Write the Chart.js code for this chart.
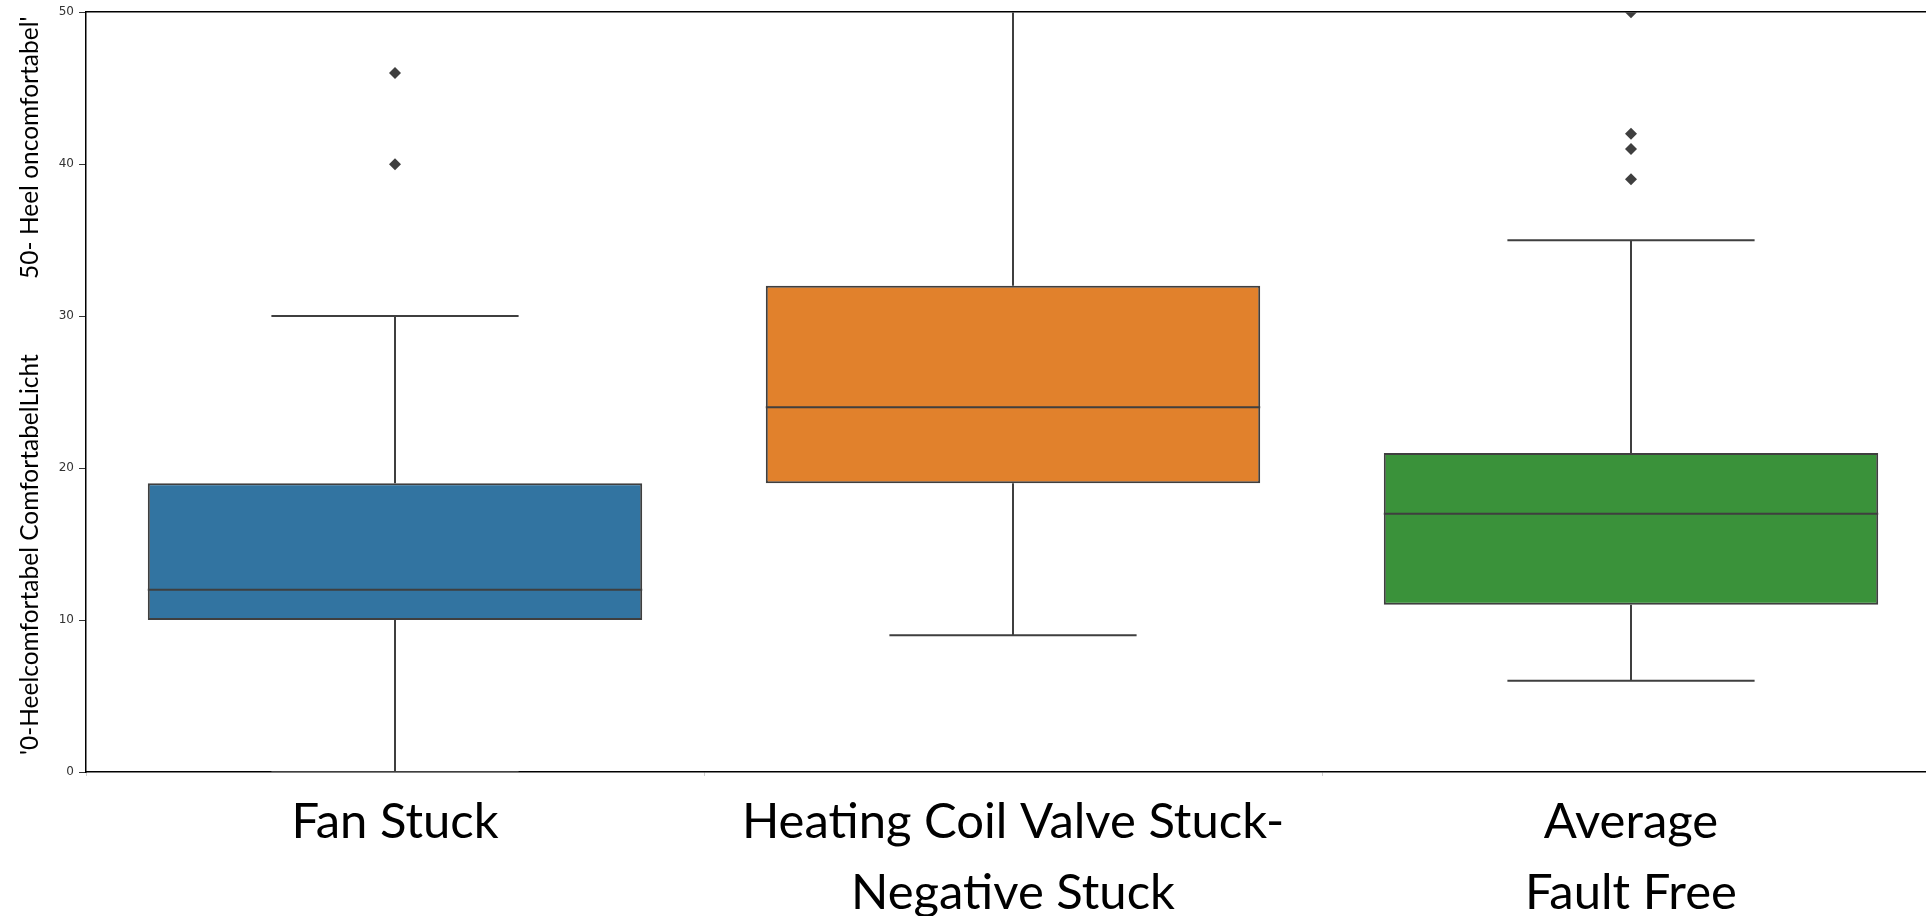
<!DOCTYPE html>
<html>
<head>
<meta charset="utf-8">
<script src="https://cdn.jsdelivr.net/npm/chart.js@4"></script>
<style>
  html, body { margin: 0; padding: 0; background: #fff; overflow: hidden; }
  #wrap { width: 1946px; height: 916px; }
</style>
</head>
<body>
<div id="wrap"><canvas id="mainCanvas" width="1946" height="916"></canvas></div>
<script>
// box plot data, one entry per category
const categories = [
  ['Fan Stuck'],
  ['Heating Coil Valve Stuck-', 'Negative Stuck'],
  ['Average', 'Fault Free']
];
const whiskerLow = [0, 9, 6];
const quartile1 = [10, 19, 11];
const medians = [12, 24, 17];
const quartile3 = [19, 32, 21];
const whiskerHigh = [30, 50, 35];
const outliers = [
  [40, 46],
  [],
  [39, 41, 42, 50]
];
const boxColors = ['#3274a1', '#e1812c', '#3a923a'];
const yTicks = [0, 10, 20, 30, 40, 50];
const yMax = 50;

const nb = n => '\u00a0'.repeat(n);
const yTitle = nb(2) + "'0-Heelcomfortabel ComfortabelLicht" + nb(12) + "50- Heel oncomfortabel'";

const lineColor = '#3f3f3f';

// whiskers and caps as line segments split by gaps
function buildSegments() {
  const pts = [];
  const add = (x0, y0, x1, y1) => pts.push({ x: x0, y: y0 }, { x: x1, y: y1 }, { x: x1, y: null });
  categories.forEach((c, i) => {
    add(i, whiskerLow[i], i, quartile1[i]);
    add(i, quartile3[i], i, whiskerHigh[i]);
    add(i - 0.2, whiskerLow[i], i + 0.2, whiskerLow[i]);
    // cap hidden under the top spine when the whisker runs off the axis
    if (whiskerHigh[i] < yMax) add(i - 0.2, whiskerHigh[i], i + 0.2, whiskerHigh[i]);
  });
  return pts;
}

function buildMedians() {
  const pts = [];
  medians.forEach((m, i) => {
    pts.push({ x: i - 0.4, y: m }, { x: i + 0.4, y: m }, { x: i + 0.4, y: null });
  });
  return pts;
}

function buildOutliers() {
  const pts = [];
  outliers.forEach((list, i) => list.forEach(v => pts.push({ x: i, y: v })));
  return pts;
}

const ctx = document.getElementById('mainCanvas').getContext('2d');

new Chart(ctx, {
  type: 'bar',
  data: {
    labels: categories,
    datasets: [
      {
        type: 'scatter',
        data: buildOutliers(),
        xAxisID: 'x2',
        pointStyle: 'rectRot',
        pointRadius: 6,
        backgroundColor: lineColor,
        borderColor: lineColor,
        borderWidth: 0,
        clip: 0,
        order: 0
      },
      {
        type: 'line',
        data: buildMedians(),
        xAxisID: 'x2',
        borderColor: lineColor,
        borderWidth: 2,
        pointRadius: 0,
        spanGaps: false,
        clip: 0,
        order: 1
      },
      {
        type: 'line',
        data: buildSegments(),
        xAxisID: 'x2',
        borderColor: lineColor,
        borderWidth: 2,
        pointRadius: 0,
        spanGaps: false,
        clip: 0,
        order: 2
      },
      {
        type: 'bar',
        data: quartile1.map((q, i) => [q, quartile3[i]]),
        backgroundColor: boxColors,
        borderColor: lineColor,
        borderWidth: 2,
        borderSkipped: false,
        grouped: false,
        barPercentage: 0.8,
        categoryPercentage: 1.0,
        order: 3
      }
    ]
  },
  options: {
    responsive: false,
    animation: false,
    layout: { padding: { top: 10, right: 2, left: 0, bottom: 0 } },
    plugins: {
      legend: { display: false },
      tooltip: { enabled: false }
    },
    scales: {
      x: {
        type: 'category',
        offset: true,
        grid: { drawOnChartArea: false, tickLength: 4, tickColor: '#d0d0d0' },
        border: { color: '#000', width: 1.5 },
        ticks: {
          color: '#000',
          padding: 11,
          maxRotation: 0,
          autoSkip: false,
          font: { family: 'Lato', size: 49, lineHeight: 1.45 }
        },
        afterFit: s => { s.height = 144; }
      },
      x2: {
        type: 'linear',
        position: 'top',
        offset: false,
        min: -0.5,
        max: 2.5,
        grid: { display: false, offset: false },
        border: { color: '#000', width: 1.5 },
        ticks: { display: false },
        afterFit: s => { s.height = 0; }
      },
      y: {
        min: 0,
        max: yMax,
        afterBuildTicks: s => { s.ticks = yTicks.map(v => ({ value: v })); },
        grid: { drawOnChartArea: false, tickLength: 7, tickColor: '#333' },
        border: { color: '#000', width: 1.5 },
        ticks: {
          color: '#333',
          padding: 5,
          font: { family: 'DejaVu Sans', size: 12 }
        },
        title: {
          display: true,
          text: yTitle,
          color: '#000',
          padding: { top: 15, bottom: 0 },
          font: { family: 'Lato', size: 24.5 }
        },
        afterFit: s => { s.width = 86; }
      }
    }
  }
});
</script>
</body>
</html>
